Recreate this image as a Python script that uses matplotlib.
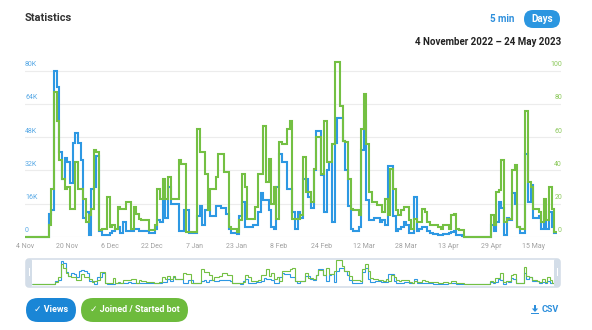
import numpy as np
import matplotlib.pyplot as plt
from matplotlib.patches import FancyBboxPatch, Rectangle, Polygon
from matplotlib.transforms import offset_copy

plt.rcParams['font.family'] = ['Roboto', 'DejaVu Sans']

# x axis: one step per day, 4 Nov 2022 .. 24 May 2023
tick_days = [0, 16, 32, 48, 64, 80, 96, 112, 128, 144, 160, 176, 192]
tick_labels = ['4 Nov', '20 Nov', '6 Dec', '22 Dec', '7 Jan', '23 Jan', '8 Feb',
               '24 Feb', '12 Mar', '28 Mar', '13 Apr', '29 Apr', '15 May']

views_ticks = [0, 16, 32, 48, 64, 80]
views_tick_labels = ['0', '16K', '32K', '48K', '64K', '80K']
joined_ticks = [0, 20, 40, 60, 80, 100]
joined_tick_labels = ['0', '20', '40', '60', '80', '100']

# daily views, thousands
views = [0, 0, 0, 0, 0, 0, 0, 0, 0,
         11, 13, 80, 72, 41, 28, 38, 36, 26, 45, 50, 45, 37, 9, 12, 1, 23, 24, 39, 3, 1,
         1, 1, 2, 3, 4, 5, 2, 7, 3,
         3, 3, 4, 4, 3, 3, 3, 3, 2, 2, 4, 8, 7, 18, 9, 24, 16, 16, 16, 3, 3,
         13, 13, 2, 2, 2, 10, 15, 6, 13, 13, 10, 10, 15, 15, 14, 14, 11, 4, 2, 2,
         1.5, 10, 17, 5, 5, 5, 6, 6, 12, 21, 18, 18, 13, 5, 4, 24, 40, 36, 36, 23,
         23, 12, 4, 12, 9, 28, 28, 19, 14, 32, 51, 51, 30, 12, 32, 36, 7, 45, 57, 57, 46,
         32, 15, 4, 3, 3, 5, 42, 56, 18, 8, 8, 9, 9, 7, 8, 6, 34, 34, 10, 3,
         4, 5, 7, 6, 2, 2, 19, 3, 4, 5, 5, 3, 2, 1.5, 1.5, 1.2, 1.2, 1.5, 1.5, 2, 2.5,
         2.7, 1, 1, 0.5,
         0, 0, 0, 0, 0, 0, 0, 0, 0, 0,
         6, 3, 7, 17, 14, 1, 9, 8, 21, 16, 5, 2, 2, 40, 17, 25, 9, 9, 10, 4, 7, 4, 12, 5, 2]

# daily joined / started bot
joined = [0, 0, 0, 0, 0, 0, 0, 0, 0,
          7, 29, 87, 70, 46, 35, 29, 30, 17, 17, 45, 29, 29, 23, 9, 13, 17, 52, 51, 4, 5,
          5, 24, 6, 7, 5, 18, 17, 17, 21,
          21, 5, 18, 14, 11, 10, 10, 10, 4, 4, 7, 29, 23, 35, 23, 36, 23, 23, 23, 46, 44,
          44, 3, 3, 3, 3, 65, 51, 51, 38, 16, 29, 29, 36, 50, 50, 39, 39, 6, 5, 5,
          3, 10, 38, 30, 11, 11, 11, 18, 38, 38, 67, 33, 47, 20, 30, 11, 57, 56, 56, 65,
          70, 11, 11, 11, 13, 48, 27, 27, 21, 41, 60, 60, 38, 70, 45, 45, 56, 105, 105, 79, 58,
          57, 35, 17, 16, 16, 13, 65, 86, 56, 27, 21, 21, 19, 19, 15, 23, 13, 41, 29, 16,
          13, 16, 18, 18, 10, 5, 11, 9, 9, 17, 15, 9, 7, 7, 7, 6, 5, 7, 7, 5, 13,
          14, 5, 4, 4,
          0, 0, 0, 0, 0, 0, 0, 0, 0, 0,
          13, 7, 27, 28, 46, 9, 11, 11, 40, 43, 6, 5, 5, 76, 33, 30, 17, 17, 15, 9, 23, 10, 30, 17, 3]

edges = np.arange(len(views) + 1)

BLUE = '#2d98e3'
GREEN = '#74c043'

W, H = 592, 330
fig = plt.figure(figsize=(W / 100, H / 100), dpi=100)


def box(l, t, r, b):
    # pixel box -> figure fraction rect
    return [l / W, 1 - b / H, (r - l) / W, (b - t) / H]


# main chart
ax = fig.add_axes(box(25, 58, 561, 237))
ax2 = ax.twinx()
ax.set_xlim(0, 202.5)
ax.set_ylim(0, 86.1)
ax2.set_ylim(0, 107.6)
for v in views_ticks:
    ax.axhline(v, color='#ececec', lw=0.8, zorder=0)

ax.stairs(views, edges, baseline=None, color=BLUE, lw=1.5, clip_on=False)
ax2.stairs(joined, edges, baseline=None, color=GREEN, lw=1.5, clip_on=False)

for a in (ax, ax2):
    for s in a.spines.values():
        s.set_visible(False)
    a.set_yticks([])
ax.set_xticks(tick_days, tick_labels)
ax.tick_params(axis='x', length=0, pad=4.5, labelsize=5, labelcolor='#a0a0a0')

tl = offset_copy(ax.get_yaxis_transform(), fig=fig, x=0, y=2.5, units='dots')
for v, lab in zip(views_ticks, views_tick_labels):
    ax.text(0, v, lab, transform=tl, ha='left', va='bottom', fontsize=5, color='#5aaae6')
tr = offset_copy(ax2.get_yaxis_transform(), fig=fig, x=1, y=2.5, units='dots')
for v, lab in zip(joined_ticks, joined_tick_labels):
    ax2.text(1, v, lab, transform=tr, ha='right', va='bottom', fontsize=5, color='#8cc95c')

# navigator mini chart
nav = fig.add_axes(box(32, 259, 555, 284))
nav2 = nav.twinx()
nav.set_xlim(0, 201)
nav.set_ylim(0, 87)
nav2.set_ylim(0, 109)
nav.stairs(views, edges, baseline=None, color=BLUE, lw=0.8, clip_on=False)
nav2.stairs(joined, edges, baseline=None, color=GREEN, lw=0.8, clip_on=False)
for a in (nav, nav2):
    a.axis('off')

# overlay in pixel units for the page elements
ov = fig.add_axes([0, 0, 1, 1])
ov.set_xlim(0, W)
ov.set_ylim(H, 0)
ov.axis('off')

ov.text(25, 18, 'Statistics', fontsize=8, fontweight='bold', color='#333333', va='center')
ov.text(502, 19, '5 min', ha='center', va='center', fontsize=7, fontweight='bold', color='#2d8fdc')
ov.add_patch(FancyBboxPatch((524, 10), 36, 18, boxstyle='round,pad=0,rounding_size=9',
                            fc='#2b96e0', ec='none'))
ov.text(542, 19, 'Days', ha='center', va='center', fontsize=7, fontweight='bold', color='white')
ov.text(561, 42, '4 November 2022 \u2013 24 May 2023', ha='right', va='center',
        fontsize=7, fontweight='bold', color='#222222')

# navigator frame + handles
ov.add_patch(FancyBboxPatch((26, 259), 534, 28, boxstyle='round,pad=0,rounding_size=3',
                            fc='none', ec='#cdd8e4', lw=1))
for hx in (26, 554):
    ov.add_patch(FancyBboxPatch((hx, 259), 6, 28, boxstyle='round,pad=0,rounding_size=2',
                                fc='#d3dde8', ec='none'))
    ov.add_patch(Rectangle((hx + 2.5, 268), 1, 8, fc='white', ec='none'))

# legend pills
ov.add_patch(FancyBboxPatch((26, 298), 50, 24, boxstyle='round,pad=0,rounding_size=12',
                            fc='#1a86d6', ec='none'))
ov.text(51, 310, '\u2713 Views', ha='center', va='center', fontsize=6.5,
        fontweight='bold', color='white')
ov.add_patch(FancyBboxPatch((81, 298), 107, 24, boxstyle='round,pad=0,rounding_size=12',
                            fc='#6dbb3c', ec='none'))
ov.text(134.5, 310, '\u2713 Joined / Started bot', ha='center', va='center', fontsize=6.5,
        fontweight='bold', color='white')

# csv link
ov.text(559, 310, 'CSV', ha='right', va='center', fontsize=6.5, fontweight='bold', color='#2d8fdc')
ov.add_patch(Rectangle((534.2, 304.5), 1.6, 5, fc='#2d8fdc', ec='none'))
ov.add_patch(Polygon([(531.8, 308.5), (538.2, 308.5), (535, 312)], fc='#2d8fdc', ec='none'))
ov.add_patch(Rectangle((531, 312.5), 8, 1.6, fc='#2d8fdc', ec='none'))

fig.savefig('out.png', dpi=100)
